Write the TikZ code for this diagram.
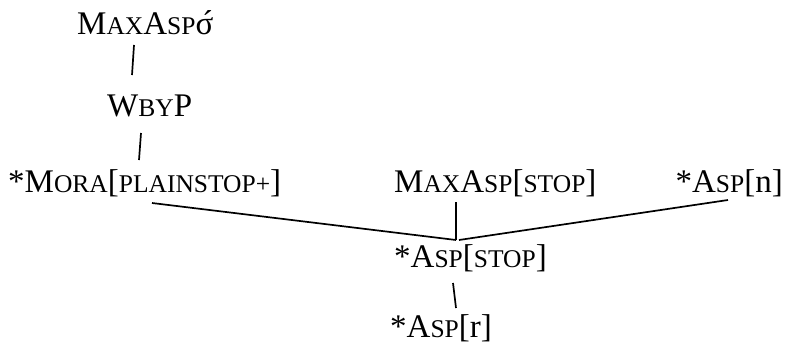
\documentclass[tikz,border=0pt]{standalone}
\usepackage{fontspec}
\setmainfont{Liberation Serif}
\newcommand\smc[1]{{\fontsize{25.5}{28}\selectfont #1}}
\newcommand\sigacute{{\rlap{σ}\kern0.2em\raisebox{0.05em}{´}}}
\tikzset{lab/.style={anchor=base west,inner sep=0pt,font=\fontsize{33}{38}\selectfont},
  conn/.style={line width=1.7pt}}
\begin{document}
\begin{tikzpicture}[x=1pt,y=-1pt]
\useasboundingbox (0,0) rectangle (789,345);
\node[lab] (top) at (77,35) {M\smc{AX}A\smc{SP}\sigacute};
\node[lab] (wbyp) at (107,116) {W\smc{BY}P};
\node[lab] (mora) at (8,192) {*M\smc{ORA}[\smc{PLAINSTOP+}]};
\node[lab] (max) at (394,192) {M\smc{AX}A\smc{SP}[\smc{STOP}]};
\node[lab,anchor=base east] (aspn) at (783,192) {*A\smc{SP}[n]};
\node[lab] (stop) at (394,267) {*A\smc{SP}[\smc{STOP}]};
\node[lab,anchor=base] (aspr) at (441,337) {*A\smc{SP}[r]};
\coordinate (t1) at (134,45);
\coordinate (t2) at (132,75);
\coordinate (w1) at (141,133);
\coordinate (w2) at (139,160);
\coordinate (m1) at (152,203);
\coordinate (j) at (456,240);
\coordinate (jr) at (459,240);
\coordinate (x1) at (456,202);
\coordinate (n1) at (728,200);
\coordinate (s1) at (453,283);
\coordinate (s2) at (456,308);
\draw[conn] (t1) -- (t2);
\draw[conn] (w1) -- (w2);
\draw[conn] (m1) -- (j);
\draw[conn] (x1) -- (j);
\draw[conn] (jr) -- (n1);
\draw[conn] (s1) -- (s2);
\end{tikzpicture}
\end{document}
